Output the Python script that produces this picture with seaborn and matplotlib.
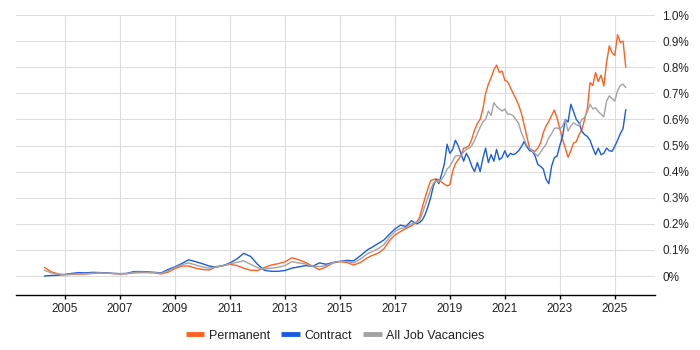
import numpy as np
import pandas as pd
import matplotlib
matplotlib.use("Agg")
import matplotlib.pyplot as plt
import seaborn as sns
from matplotlib.ticker import FuncFormatter

# ---------------- data (values in %) ----------------
years_quarterly = np.linspace(2004.25, 2015.75, 47)
years_mid = np.linspace(2016.0, 2017.8, 10)
years_late = np.linspace(2017.9, 2025.4, 76)

perm_early = [0.033, 0.016, 0.008, 0.005, 0.006, 0.007, 0.008, 0.010, 0.012, 0.011,
              0.009, 0.008, 0.009, 0.012, 0.013, 0.013, 0.012, 0.008, 0.015, 0.028,
              0.038, 0.038, 0.030, 0.025, 0.023, 0.036, 0.040, 0.045, 0.040, 0.030,
              0.022, 0.021, 0.032, 0.042, 0.047, 0.054, 0.070, 0.062, 0.052, 0.038,
              0.024, 0.035, 0.050, 0.055, 0.052, 0.042, 0.052]
contract_early = [0.000, 0.002, 0.003, 0.006, 0.010, 0.013, 0.012, 0.014, 0.013, 0.012,
                  0.010, 0.009, 0.010, 0.017, 0.017, 0.016, 0.014, 0.012, 0.025, 0.035,
                  0.048, 0.062, 0.055, 0.047, 0.038, 0.034, 0.040, 0.050, 0.065, 0.087,
                  0.075, 0.045, 0.022, 0.018, 0.018, 0.021, 0.030, 0.035, 0.040, 0.037,
                  0.050, 0.045, 0.052, 0.056, 0.060, 0.058, 0.078]
all_early = [0.022, 0.012, 0.007, 0.005, 0.007, 0.009, 0.009, 0.011, 0.012, 0.011,
             0.010, 0.009, 0.009, 0.014, 0.015, 0.014, 0.013, 0.010, 0.020, 0.032,
             0.043, 0.050, 0.042, 0.035, 0.030, 0.035, 0.040, 0.047, 0.052, 0.058,
             0.045, 0.032, 0.027, 0.030, 0.033, 0.040, 0.055, 0.050, 0.046, 0.038,
             0.036, 0.040, 0.051, 0.056, 0.056, 0.050, 0.065]

perm_mid = [0.070, 0.080, 0.088, 0.104, 0.135, 0.157, 0.170, 0.182, 0.192, 0.208]
contract_mid = [0.100, 0.112, 0.125, 0.138, 0.160, 0.180, 0.195, 0.190, 0.212, 0.200]
all_mid = [0.085, 0.095, 0.105, 0.120, 0.148, 0.170, 0.182, 0.186, 0.200, 0.205]

perm_late = [0.225,
             0.265, 0.300, 0.335, 0.365, 0.370, 0.372, 0.368, 0.360, 0.352, 0.345,
             0.350, 0.400, 0.430, 0.445, 0.460, 0.490, 0.492, 0.500, 0.525, 0.560,
             0.585, 0.600, 0.640, 0.700, 0.735, 0.760, 0.790, 0.808, 0.780, 0.785,
             0.750, 0.745, 0.722, 0.700, 0.680, 0.655, 0.625, 0.580, 0.535, 0.490,
             0.482, 0.478, 0.490, 0.510, 0.550, 0.575, 0.593, 0.615, 0.636, 0.605,
             0.565, 0.523, 0.490, 0.455, 0.480, 0.510, 0.515, 0.542, 0.560, 0.600,
             0.640, 0.741, 0.730, 0.780, 0.745, 0.770, 0.728, 0.818, 0.882, 0.855,
             0.845, 0.925, 0.895, 0.900, 0.800]
contract_late = [0.205,
                 0.215, 0.235, 0.265, 0.300, 0.345, 0.370, 0.354, 0.390, 0.430, 0.505,
                 0.470, 0.485, 0.520, 0.500, 0.470, 0.440, 0.470, 0.450, 0.420, 0.400,
                 0.435, 0.400, 0.450, 0.490, 0.435, 0.465, 0.440, 0.485, 0.445, 0.455,
                 0.480, 0.455, 0.470, 0.465, 0.470, 0.480, 0.495, 0.515, 0.495, 0.480,
                 0.478, 0.460, 0.427, 0.420, 0.410, 0.370, 0.354, 0.420, 0.453, 0.460,
                 0.500, 0.535, 0.600, 0.590, 0.658, 0.630, 0.600, 0.587, 0.555, 0.542,
                 0.535, 0.520, 0.491, 0.465, 0.490, 0.465, 0.470, 0.490, 0.480, 0.478,
                 0.497, 0.520, 0.545, 0.565, 0.638]
all_late = [0.212,
            0.240, 0.270, 0.300, 0.330, 0.355, 0.365, 0.360, 0.372, 0.385, 0.410,
            0.420, 0.440, 0.459, 0.462, 0.460, 0.475, 0.485, 0.490, 0.500, 0.520,
            0.545, 0.570, 0.590, 0.600, 0.632, 0.615, 0.664, 0.650, 0.640, 0.632,
            0.640, 0.620, 0.620, 0.615, 0.600, 0.585, 0.550, 0.525, 0.500, 0.490,
            0.478, 0.470, 0.459, 0.475, 0.490, 0.505, 0.530, 0.545, 0.565, 0.568,
            0.562, 0.575, 0.600, 0.555, 0.575, 0.587, 0.580, 0.575, 0.600, 0.607,
            0.630, 0.658, 0.640, 0.645, 0.630, 0.620, 0.610, 0.670, 0.690, 0.680,
            0.670, 0.710, 0.730, 0.735, 0.722]

series_names = ["Permanent", "Contract", "All Job Vacancies"]
series_colors = ["#FF5F1F", "#1A5CE0", "#A3A3A3"]
x_tick_years = [2005, 2007, 2009, 2011, 2013, 2015, 2017, 2019, 2021, 2023, 2025]
y_tick_values = [0.0, 0.1, 0.2, 0.3, 0.4, 0.5, 0.6, 0.7, 0.8, 0.9, 1.0]

# ---------------- build table ----------------
years = np.concatenate([years_quarterly, years_mid, years_late])
wide = pd.DataFrame({
    "year": years,
    "Permanent": perm_early + perm_mid + perm_late,
    "Contract": contract_early + contract_mid + contract_late,
    "All Job Vacancies": all_early + all_mid + all_late,
})
df = wide.melt(id_vars="year", var_name="series", value_name="value")

# ---------------- plot ----------------
sns.set_theme(style="white")
plt.rcParams["font.family"] = ["Liberation Sans", "DejaVu Sans"]

fig, ax = plt.subplots(figsize=(7, 3.5), dpi=100)
fig.subplots_adjust(left=0.023, right=0.936, top=0.957, bottom=0.157)

sns.lineplot(data=df, x="year", y="value", hue="series",
             hue_order=series_names, palette=series_colors,
             linewidth=1.0, ax=ax)

handles, labels = ax.get_legend_handles_labels()
ax.get_legend().remove()

ax.set_xlim(2003.22, 2026.47)
ax.set_ylim(-0.073, 1.0)
ax.set_xlabel("")
ax.set_ylabel("")

ax.set_xticks(x_tick_years)
ax.set_xticklabels([str(y) for y in x_tick_years])
ax.yaxis.tick_right()
ax.set_yticks(y_tick_values)
ax.yaxis.set_major_formatter(FuncFormatter(lambda v, p: "0%" if abs(v) < 1e-9 else f"{v:.1f}%"))

ax.tick_params(axis="y", length=0, pad=5, labelsize=8.5, labelcolor="#222222")
ax.tick_params(axis="x", length=3, width=1, color="black", pad=3,
               labelsize=8.5, labelcolor="#222222", bottom=True)

ax.grid(True, color="#DDDDDD", linewidth=0.8)
ax.set_axisbelow(True)
for s in ["top", "left", "right"]:
    ax.spines[s].set_visible(False)
ax.spines["bottom"].set_color("black")
ax.spines["bottom"].set_linewidth(1.0)

leg = fig.legend(handles, labels, loc="center", bbox_to_anchor=(0.479, 0.041),
                 ncol=3, frameon=False, fontsize=9, handlelength=1.5,
                 handletextpad=0.35, columnspacing=0.9)
for line in leg.get_lines():
    line.set_linewidth(3.5)
    line.set_solid_capstyle("butt")
for txt in leg.get_texts():
    txt.set_color("#222222")

fig.savefig("out.png", dpi=100)
